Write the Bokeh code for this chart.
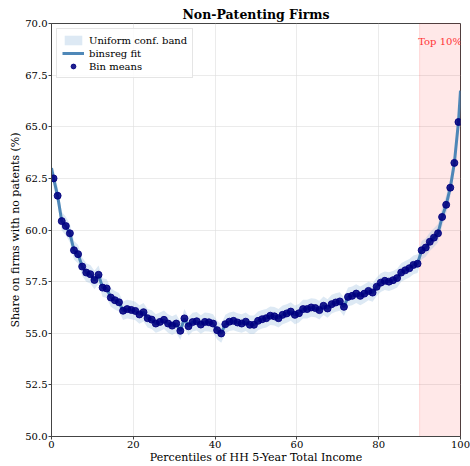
from bokeh.plotting import figure
from bokeh.models import BoxAnnotation, Legend, LegendItem, FixedTicker, ColumnDataSource
from bokeh.core.properties import value
from bokeh.embed import file_html
from bokeh.resources import INLINE

# Bin centers (percentiles)
percentiles = [i + 0.5 for i in range(100)]

# Bin means
bin_means = [
    62.50, 61.66, 60.43, 60.19, 59.84, 59.02, 58.83, 58.23, 57.94, 57.86,
    57.58, 57.83, 57.21, 57.17, 56.73, 56.60, 56.50, 56.09, 56.17, 56.13,
    56.08, 55.91, 56.02, 55.73, 55.66, 55.47, 55.55, 55.65, 55.47, 55.37,
    55.47, 55.12, 55.72, 55.34, 55.54, 55.58, 55.42, 55.55, 55.53, 55.47,
    55.15, 54.99, 55.44, 55.56, 55.60, 55.52, 55.47, 55.56, 55.41, 55.41,
    55.60, 55.68, 55.73, 55.85, 55.82, 55.73, 55.89, 55.96, 56.05, 55.89,
    55.97, 56.17, 56.17, 56.25, 56.22, 56.12, 56.33, 56.20, 56.41, 56.49,
    56.54, 56.28, 56.76, 56.81, 56.92, 56.81, 56.92, 57.05, 56.97, 57.25,
    57.45, 57.54, 57.50, 57.57, 57.67, 57.94, 58.05, 58.15, 58.31, 58.37,
    59.02, 59.15, 59.43, 59.63, 59.84, 60.63, 61.22, 62.05, 63.25, 65.23,
]

# binsreg fit end values
fit_start = (0.0, 63.0)
fit_end = (100.0, 66.75)

# Uniform confidence band half-width
band_half_width = 0.45

# Top decile region
top_start, top_end = 90, 100
top_label = "Top 10%"

x_ticks = [0, 20, 40, 60, 80, 100]
y_ticks = [50.0, 52.5, 55.0, 57.5, 60.0, 62.5, 65.0, 67.5, 70.0]

SERIF = "DejaVu Serif"

p = figure(width=470, height=466, x_range=(0, 100), y_range=(50, 70),
           output_backend="svg", toolbar_location=None,
           min_border_left=51, min_border_right=10, min_border_top=23, min_border_bottom=28)

p.title.text = "Non-Patenting Firms"
p.title.align = "center"
p.title.text_font = SERIF
p.title.text_font_size = "12.5px"
p.title.text_font_style = "bold"
p.title.text_color = "black"
p.title.offset = 0
p.title.standoff = 3

# Top decile shading (beneath the data)
p.add_layout(BoxAnnotation(left=top_start, right=top_end, fill_color="red", fill_alpha=0.09,
                           line_color="red", line_alpha=0.12, line_width=1, level="underlay"))

# Confidence band
band_src = ColumnDataSource(dict(
    x=percentiles,
    lo=[v - band_half_width for v in bin_means],
    hi=[v + band_half_width for v in bin_means],
))
band = p.varea(x="x", y1="lo", y2="hi", source=band_src, fill_color="#9fbfdf", fill_alpha=0.35)

# Fit line
fit_x = [fit_start[0]] + percentiles + [fit_end[0]]
fit_y = [fit_start[1]] + bin_means + [fit_end[1]]
fit = p.line(fit_x, fit_y, line_color="#4682b4", line_width=3, line_alpha=0.95)

# Bin means
dots = p.scatter(percentiles, bin_means, size=7, fill_color="#000080", line_color="#000080",
                 fill_alpha=0.88, line_alpha=0.88)

p.text(x=[(top_start + top_end) / 2], y=[69.15], text=[top_label], text_align="center",
       text_baseline="middle", text_color="#ff3333", text_font=value(SERIF), text_font_size="10px")

legend = Legend(items=[
    LegendItem(label="Uniform conf. band", renderers=[band]),
    LegendItem(label="binsreg fit", renderers=[fit]),
    LegendItem(label="Bin means", renderers=[dots]),
], location="top_left")
legend.label_text_font = SERIF
legend.label_text_font_size = "10px"
legend.label_text_color = "black"
legend.label_height = 12
legend.glyph_height = 12
legend.glyph_width = 22
legend.spacing = 1
legend.padding = 5
legend.margin = 5
legend.border_line_color = "#cccccc"
legend.background_fill_alpha = 0.85
p.add_layout(legend)

for ax in (p.xaxis, p.yaxis):
    ax.axis_label_text_font = SERIF
    ax.axis_label_text_font_size = "11px"
    ax.axis_label_text_font_style = "normal"
    ax.axis_label_text_color = "black"
    ax.major_label_text_font = SERIF
    ax.major_label_text_font_size = "10px"
    ax.major_label_text_color = "black"
    ax.axis_line_color = "#444444"
    ax.major_tick_line_color = "#444444"
    ax.major_tick_out = 3
    ax.major_tick_in = 0
    ax.minor_tick_line_color = None
    ax.major_label_standoff = 1
    ax.axis_label_standoff = 0

p.xaxis.axis_label = "Percentiles of HH 5-Year Total Income"
p.yaxis.axis_label = "Share on firms with no patents (%)"
p.xaxis.ticker = FixedTicker(ticks=x_ticks)
p.yaxis.ticker = FixedTicker(ticks=y_ticks)
p.yaxis.major_label_overrides = {t: f"{t:.1f}" for t in y_ticks}

p.xgrid.ticker = FixedTicker(ticks=x_ticks)
p.ygrid.ticker = FixedTicker(ticks=y_ticks)
p.grid.grid_line_color = "#dddddd"
p.grid.grid_line_alpha = 0.6

p.outline_line_color = "#444444"
p.outline_line_width = 1
p.background_fill_color = "white"
p.border_fill_color = "white"

open("out.html", "w").write(file_html(p, INLINE))
